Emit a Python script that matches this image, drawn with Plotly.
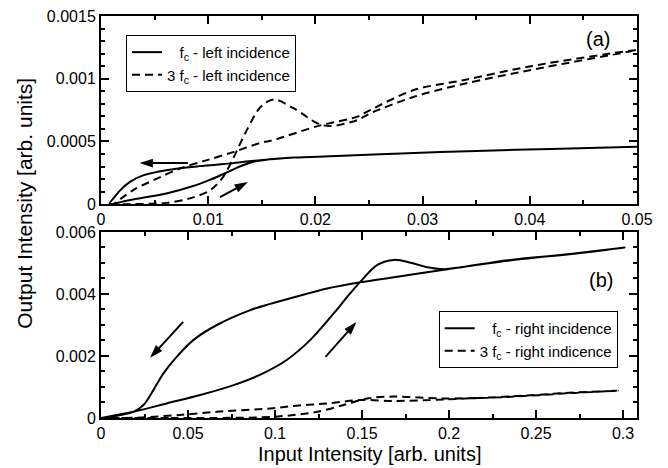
import plotly.graph_objects as go

# ---------------- data: panel (a), left incidence ----------------
# f_c : increasing branch followed by decreasing branch (hysteresis loop)
a_fc_x = [0.0008, 0.002, 0.0030, 0.0061, 0.0086, 0.0102, 0.0118, 0.013, 0.0142, 0.0155,
          0.018, 0.022, 0.028, 0.035, 0.042, 0.05,
          0.042, 0.035, 0.028, 0.022, 0.018, 0.0155, 0.0142, 0.0121, 0.0092, 0.0061,
          0.0040, 0.0027, 0.0018, 0.0013, 0.0008]
a_fc_y = [0.0, 0.00002, 0.0000375, 0.000085, 0.000144, 0.000195, 0.000255, 0.000302, 0.000338, 0.000355,
          0.000372, 0.000383, 0.000404, 0.000424, 0.00044, 0.000457,
          0.00044, 0.000424, 0.000404, 0.000383, 0.000372, 0.000355, 0.000346, 0.000325, 0.000303, 0.000271,
          0.000231, 0.000178, 0.000112, 0.00006, 0.0]
# 3 f_c
a_3fc_x = [0.0008, 0.003, 0.0061, 0.0083, 0.0102, 0.0114, 0.0124, 0.0136, 0.0149, 0.0161,
           0.018, 0.0202, 0.0214, 0.0239, 0.0251, 0.0292, 0.0339, 0.0401, 0.05,
           0.0401, 0.0339, 0.0292, 0.0251, 0.0239, 0.0202, 0.0161, 0.0149, 0.0124,
           0.0099, 0.0074, 0.0049, 0.003, 0.0012]
a_3fc_y = [0.0, 0.0, 0.00001, 0.000046, 0.000112, 0.000218, 0.000377, 0.00059, 0.000776, 0.000835,
           0.000763, 0.000644, 0.000622, 0.00067, 0.000723, 0.000856, 0.00096, 0.00107, 0.00123,
           0.0011, 0.00099, 0.00091, 0.00075, 0.000697, 0.000622, 0.000511, 0.000489, 0.000417,
           0.000351, 0.000285, 0.000191, 0.000112, 0.0]

# ---------------- data: panel (b), right incidence ----------------
b_fc_x = [0.0, 0.0186, 0.0378, 0.057, 0.0762, 0.0916, 0.1069, 0.1203, 0.1338, 0.1415,
          0.1491, 0.1588, 0.1684, 0.178, 0.1876, 0.1971, 0.2336, 0.272, 0.3008,
          0.272, 0.2336, 0.1971, 0.1684, 0.1491, 0.13, 0.1146, 0.0973, 0.0858, 0.0666,
          0.0532, 0.0436, 0.0359, 0.0301, 0.0244, 0.0186, 0.0]
b_fc_y = [0.0, 0.0002, 0.00047, 0.00074, 0.00106, 0.0014, 0.00188, 0.00252, 0.00338, 0.00391,
          0.0044, 0.00494, 0.0051, 0.00501, 0.00486, 0.0048, 0.00509, 0.0053, 0.0055,
          0.00531, 0.00507, 0.00478, 0.00454, 0.00438, 0.00418, 0.00395, 0.00368, 0.00348, 0.003,
          0.00252, 0.00198, 0.00144, 0.0009, 0.00042, 0.0002, 0.0]
b_3fc_x = [0.0, 0.04, 0.0992, 0.1242, 0.1395, 0.153, 0.1684, 0.1971, 0.2336, 0.272, 0.297,
           0.272, 0.2336, 0.1971, 0.1684, 0.1491, 0.13, 0.1107, 0.0973, 0.0666, 0.0455, 0.02, 0.0]
b_3fc_y = [0.0, 0.0, 0.00004, 0.0002, 0.00042, 0.00063, 0.00069, 0.00063, 0.00068, 0.00081, 0.00088,
           0.00082, 0.00069, 0.0006, 0.00055, 0.00058, 0.00047, 0.00039, 0.00031, 0.0002, 0.0001, 0.00001, 0.0]

# ---------------- arrows (tail -> head) ----------------
a_arrow1_x = [0.0081, 0.0036]
a_arrow1_y = [0.000327, 0.000327]
a_arrow2_x = [0.0111, 0.0137]
a_arrow2_y = [0.000056, 0.000176]
b_arrow1_x = [0.0472, 0.0282]
b_arrow1_y = [0.0031, 0.00194]
b_arrow2_x = [0.129, 0.1468]
b_arrow2_y = [0.00197, 0.0031]

# ---------------- ticks ----------------
a_xticks = [0, 0.01, 0.02, 0.03, 0.04, 0.05]
a_xlabels = ["0", "0.01", "0.02", "0.03", "0.04", "0.05"]
a_yticks = [0, 0.0005, 0.001, 0.0015]
a_ylabels = ["0", "0.0005", "0.001", "0.0015"]
b_xticks = [0, 0.05, 0.1, 0.15, 0.2, 0.25, 0.3]
b_xlabels = ["0", "0.05", "0.1", "0.15", "0.2", "0.25", "0.3"]
b_yticks = [0, 0.002, 0.004, 0.006]
b_ylabels = ["0", "0.002", "0.004", "0.006"]

FONT = "Liberation Sans, Arial, Helvetica, sans-serif"
NB = "\u00a0"

fig = go.Figure()
line_solid = dict(color="black", width=2, shape="spline", smoothing=0.9)
line_dash = dict(color="black", width=2, dash="8px,5px", shape="spline", smoothing=0.9)

fig.add_trace(go.Scatter(x=a_fc_x, y=a_fc_y, mode="lines", line=line_solid,
                         name=NB * 3 + "f<sub>c</sub> - left incidence",
                         xaxis="x", yaxis="y", legend="legend"))
fig.add_trace(go.Scatter(x=a_3fc_x, y=a_3fc_y, mode="lines", line=line_dash,
                         name="3 f<sub>c</sub> - left incidence",
                         xaxis="x", yaxis="y", legend="legend"))
fig.add_trace(go.Scatter(x=b_fc_x, y=b_fc_y, mode="lines", line=line_solid,
                         name=NB * 3 + "f<sub>c</sub> - right incidence",
                         xaxis="x2", yaxis="y2", legend="legend2"))
fig.add_trace(go.Scatter(x=b_3fc_x, y=b_3fc_y, mode="lines", line=line_dash,
                         name="3 f<sub>c</sub> - right indicence",
                         xaxis="x2", yaxis="y2", legend="legend2"))

for ax_x, ax_y, xa, ya in [(a_arrow1_x, a_arrow1_y, "x", "y"), (a_arrow2_x, a_arrow2_y, "x", "y"),
                           (b_arrow1_x, b_arrow1_y, "x2", "y2"), (b_arrow2_x, b_arrow2_y, "x2", "y2")]:
    fig.add_trace(go.Scatter(x=ax_x, y=ax_y, mode="lines+markers", xaxis=xa, yaxis=ya,
                             line=dict(color="black", width=2), showlegend=False, hoverinfo="skip",
                             marker=dict(symbol=["circle", "arrow"], size=[0, 14], color="black",
                                         opacity=1, angleref="previous", line=dict(width=0))))

axis_common = dict(showline=True, linewidth=2, linecolor="black", mirror="allticks",
                   ticks="inside", ticklen=8, tickwidth=1.5, tickcolor="black",
                   showgrid=False, zeroline=False, automargin=False, ticklabeloverflow="allow",
                   tickfont=dict(family=FONT, size=16, color="black"))
minor_common = dict(ticks="inside", ticklen=4, tickwidth=1.5, tickcolor="black")

fig.update_layout(
    width=668, height=468,
    margin=dict(l=101, r=31, t=16, b=50, autoexpand=False),
    plot_bgcolor="white", paper_bgcolor="white",
    font=dict(family=FONT, color="black"),
    xaxis=dict(domain=[0, 1], anchor="y", range=[0, 0.05], tickvals=a_xticks, ticktext=a_xlabels,
               minor=dict(dtick=0.005, **minor_common), **axis_common),
    yaxis=dict(domain=[0.532, 1], anchor="x", range=[0, 0.0015], tickvals=a_yticks, ticktext=a_ylabels,
               minor=dict(dtick=0.0001, **minor_common), **axis_common),
    xaxis2=dict(domain=[0, 1], anchor="y2", range=[0, 0.308], tickvals=b_xticks, ticktext=b_xlabels,
                minor=dict(dtick=0.025, **minor_common), **axis_common),
    yaxis2=dict(domain=[0, 0.4627], anchor="x2", range=[0, 0.006], tickvals=b_yticks, ticktext=b_ylabels,
                minor=dict(dtick=0.0005, **minor_common), **axis_common),
    legend=dict(x=0.0466, y=0.953, xanchor="left", yanchor="top", bgcolor="white",
                bordercolor="black", borderwidth=1, itemwidth=30,
                font=dict(family=FONT, size=15, color="black"), tracegroupgap=0),
    legend2=dict(x=0.63, y=0.266, xanchor="left", yanchor="top", bgcolor="white",
                 bordercolor="black", borderwidth=1, itemwidth=30,
                 font=dict(family=FONT, size=15, color="black"), tracegroupgap=0),
    showlegend=True,
)

# panel labels
fig.add_annotation(x=0.0464, y=0.00132, xref="x", yref="y", text="(a)", showarrow=False,
                   font=dict(family=FONT, size=20, color="black"))
fig.add_annotation(x=0.2873, y=0.00445, xref="x2", yref="y2", text="(b)", showarrow=False,
                   font=dict(family=FONT, size=20, color="black"))

# axis titles
fig.add_annotation(x=0.5, y=-0.09, xref="paper", yref="paper", text="Input Intensity [arb. units]",
                   showarrow=False, xanchor="center", yanchor="middle",
                   font=dict(family=FONT, size=20, color="black"))
fig.add_annotation(x=-0.142, y=0.535, xref="paper", yref="paper", text="Output Intensity [arb. units]",
                   textangle=-90, showarrow=False, xanchor="center", yanchor="middle",
                   font=dict(family=FONT, size=21, color="black"))

# remove the browser's default 8px body margin so the figure fills the window exactly
fig.write_html("out.html", config={"displayModeBar": False},
               post_script="document.body.style.margin='0px';document.body.style.padding='0px';")
